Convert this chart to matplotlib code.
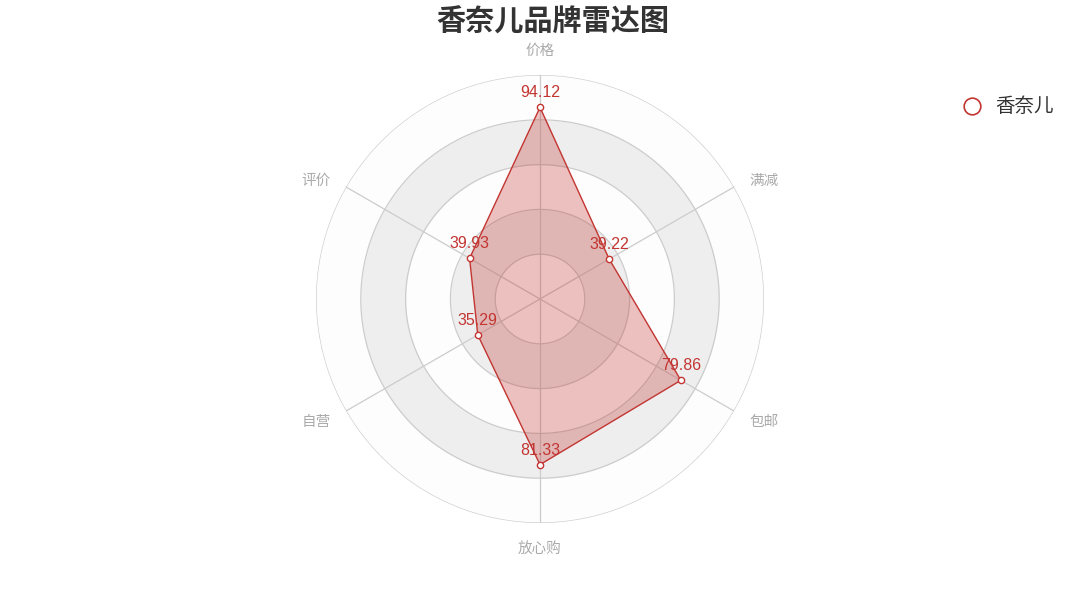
import numpy as np
import matplotlib
matplotlib.use('Agg')
import matplotlib.pyplot as plt
from matplotlib.lines import Line2D

plt.rcParams['font.family'] = ['Noto Sans CJK SC', 'DejaVu Sans']

# データ
indicators = ['价格', '满减', '包邮', '放心购', '自营', '评价']
values = [94.12, 39.22, 79.86, 81.33, 35.29, 39.93]
r_max = 110
series_name = '香奈儿'
title = '香奈儿品牌雷达图'

red = '#c23531'
W, H = 1080, 600
cx, cy, rad = 540, 299, 224

fig = plt.figure(figsize=(W / 100, H / 100), dpi=100)
ax = fig.add_axes([(cx - rad) / W, (H - cy - rad) / H, 2 * rad / W, 2 * rad / H],
                  projection='polar')
ax.set_theta_zero_location('N')
ax.set_theta_direction(-1)
ax.set_ylim(0, r_max)
ax.grid(False)
ax.set_xticks([])
ax.set_yticks([])
ax.spines['polar'].set_visible(False)
ax.patch.set_alpha(0)

# 背景の同心円（交互の塗り）
full = np.linspace(0, 2 * np.pi, 361)
n_split = 5
edges = np.linspace(0, r_max, n_split + 1)
area_cols = ['#fdfdfd', '#eeeeee']
for i in range(n_split):
    ax.fill_between(full, edges[i], edges[i + 1], color=area_cols[i % 2], lw=0, zorder=1)
for r in edges[1:]:
    ax.plot(full, [r] * len(full), color='#cccccc', lw=0.9, zorder=2)

# 軸線
angles = np.linspace(0, 2 * np.pi, len(indicators), endpoint=False)
for a in angles:
    ax.plot([a, a], [0, r_max], color='#cccccc', lw=0.9, zorder=2)

# 軸名
name_r = r_max + 8.5
for a, name in zip(angles, indicators):
    s = np.sin(a)
    c = np.cos(a)
    dy = -2
    if abs(s) < 1e-6:
        ha = 'center'
        va = 'bottom' if c > 0 else 'top'
        if c > 0:
            dy = 0
    else:
        ha = 'left' if s > 0 else 'right'
        va = 'center'
    ax.annotate(name, (a, name_r), xytext=(0, dy), textcoords='offset points',
                ha=ha, va=va, fontsize=10.5, color='#aaaaaa', annotation_clip=False)

# データ系列
th = np.append(angles, angles[0])
vv = np.append(values, values[0])
ax.fill(th, vv, color=red, alpha=0.3, lw=0, zorder=3)
ax.plot(th, vv, color=red, lw=1, zorder=4)
ax.plot(angles, values, 'o', ms=4.5, mfc='white', mec=red, mew=1, zorder=5)
for a, v in zip(angles, values):
    ax.annotate(f'{v:.2f}', (a, v), xytext=(0, 5), textcoords='offset points',
                ha='center', va='bottom', fontsize=11.5, color=red, zorder=6,
                family=['Liberation Sans', 'DejaVu Sans'])

# タイトル
fig.text(553 / W, 1 - 22 / H, title, ha='center', va='center',
         fontsize=21, fontweight='bold', color='#333333')

# 凡例
fig.add_artist(Line2D([972 / W], [1 - 106 / H], transform=fig.transFigure,
                      marker='o', ms=12, mfc='white', mec=red, mew=1.2, ls='none'))
fig.text(995 / W, 1 - 106 / H, series_name, ha='left', va='center',
         fontsize=14, color='#333333')

fig.savefig('out.png', dpi=100)
